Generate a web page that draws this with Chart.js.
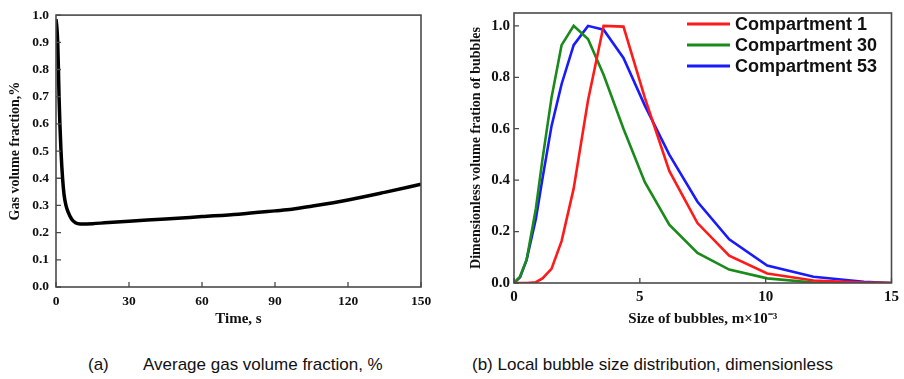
<!DOCTYPE html>
<html lang="en">
<head>
  <meta charset="UTF-8" />
  <title>Gas volume fraction and bubble size distribution</title>
  <script src="https://cdn.jsdelivr.net/npm/chart.js"></script>
  <style>
    body { margin: 0; background: #fff; width: 904px; height: 379px; position: relative; overflow: hidden; }
    .panel { position: absolute; top: 0; height: 330px; }
    #panelA { left: 0; width: 440px; }
    #panelB { left: 450px; width: 454px; }
    .caption {
      position: absolute; top: 355px; font-family: "Liberation Sans", Arial, sans-serif;
      font-size: 17px; color: #111; white-space: pre;
    }
  </style>
</head>
<body>
  <div class="panel" id="panelA"><canvas id="chartA" width="440" height="330"></canvas></div>
  <div class="panel" id="panelB"><canvas id="chartB" width="454" height="330"></canvas></div>
  <div class="caption" id="capA1" style="left:88px">(a)</div>
  <div class="caption" id="capA2" style="left:143px">Average gas volume fraction, %</div>
  <div class="caption" id="capB" style="left:472px">(b) Local bubble size distribution, dimensionless</div>

  <script>
    // (a) average gas volume fraction over time
    const timeS = [0, 0.4, 0.7, 1.0, 1.25, 1.6, 2.05, 2.7, 3.3, 4.1, 5, 6.4, 8, 10, 15, 20, 30, 45, 60, 75, 90, 97, 105, 120, 135, 150];
    const gasFraction = [0.985, 0.95, 0.9, 0.8, 0.7, 0.6, 0.5, 0.4, 0.34, 0.30, 0.275, 0.25, 0.236, 0.232, 0.233, 0.236, 0.242, 0.25, 0.259, 0.268, 0.280, 0.286, 0.297, 0.320, 0.348, 0.378];
    const timeTicks = [0, 30, 60, 90, 120, 150];
    const fractionTicks = [0, 0.1, 0.2, 0.3, 0.4, 0.5, 0.6, 0.7, 0.8, 0.9, 1.0];

    // (b) bubble size classes (m x 10^-3) and normalised volume fraction per compartment
    const bubbleSize = [0, 0.24, 0.5, 0.87, 1.13, 1.49, 1.89, 2.37, 2.94, 3.56, 4.35, 5.2, 6.17, 7.29, 8.55, 10.06, 11.9, 13.9, 15];
    const compartment1 = [0, 0, 0, 0.003, 0.018, 0.055, 0.163, 0.367, 0.71, 1.0, 0.997, 0.72, 0.436, 0.233, 0.106, 0.037, 0.01, 0.002, 0];
    const compartment30 = [0, 0.025, 0.09, 0.29, 0.48, 0.72, 0.925, 1.0, 0.949, 0.81, 0.6, 0.392, 0.227, 0.117, 0.052, 0.018, 0.002, 0, 0];
    const compartment53 = [0, 0.022, 0.09, 0.25, 0.405, 0.61, 0.773, 0.925, 1.0, 0.985, 0.875, 0.69, 0.499, 0.316, 0.17, 0.068, 0.024, 0.005, 0];
    const seriesNames = ["Compartment 1", "Compartment 30", "Compartment 53"];
    const seriesColors = ["#ff1a1a", "#1a8a1a", "#1a1aff"];
    const sizeTicks = [0, 5, 10, 15];
    const distTicks = [0, 0.2, 0.4, 0.6, 0.8, 1.0];

    const serif = "'Liberation Serif', 'Times New Roman', serif";
    const toPoints = (xs, ys) => xs.map((x, i) => ({ x: x, y: ys[i] }));

    // frame around the plot and short inward tick marks
    const frameTicks = {
      id: "frameTicks",
      afterDraw(chart) {
        const { ctx, chartArea: a, scales } = chart;
        ctx.save();
        ctx.strokeStyle = "#4a4a4a";
        ctx.lineWidth = 1.6;
        ctx.strokeRect(a.left, a.top, a.right - a.left, a.bottom - a.top);
        ctx.lineWidth = 1.3;
        ctx.beginPath();
        scales.x.ticks.forEach(t => {
          const px = scales.x.getPixelForValue(t.value);
          ctx.moveTo(px, a.bottom);
          ctx.lineTo(px, a.bottom - 5);
        });
        scales.y.ticks.forEach(t => {
          const py = scales.y.getPixelForValue(t.value);
          ctx.moveTo(a.left, py);
          ctx.lineTo(a.left + 5, py);
        });
        ctx.stroke();
        ctx.restore();
      }
    };

    // legend drawn inside the plot, top right
    const insideLegend = {
      id: "insideLegend",
      afterDraw(chart) {
        const { ctx } = chart;
        ctx.save();
        ctx.font = "bold 18px 'Liberation Sans', Arial, sans-serif";
        ctx.textBaseline = "middle";
        chart.data.datasets.forEach((ds, i) => {
          const y = 24 + i * 21;
          ctx.strokeStyle = ds.borderColor;
          ctx.lineWidth = 3;
          ctx.beginPath();
          ctx.moveTo(237, y);
          ctx.lineTo(280, y);
          ctx.stroke();
          ctx.fillStyle = "#111";
          ctx.fillText(ds.label, 285, y + 1);
        });
        ctx.restore();
      }
    };

    function fixedTicks(list) {
      return function (scale) {
        scale.ticks = list.map(v => ({ value: v }));
      };
    }

    new Chart(document.getElementById("chartA"), {
      type: "line",
      data: {
        datasets: [{
          data: toPoints(timeS, gasFraction),
          borderColor: "#000",
          borderWidth: 3.5,
          pointRadius: 0,
          cubicInterpolationMode: "monotone",
          fill: false
        }]
      },
      options: {
        responsive: false,
        animation: false,
        layout: { padding: { top: 13, right: 19, bottom: 0, left: 0 } },
        plugins: { legend: { display: false }, tooltip: { enabled: false } },
        scales: {
          x: {
            type: "linear", min: 0, max: 150,
            afterBuildTicks: fixedTicks(timeTicks),
            afterFit(s) { s.height = 43; },
            grid: { display: false, drawTicks: false },
            border: { display: false },
            ticks: { font: { family: serif, size: 13.5, weight: "bold" }, color: "#111", padding: 6, maxRotation: 0 },
            title: { display: true, text: "Time, s", font: { family: serif, size: 15, weight: "bold" }, color: "#111", padding: { top: 0, bottom: 2 } }
          },
          y: {
            type: "linear", min: 0, max: 1.0,
            afterBuildTicks: fixedTicks(fractionTicks),
            afterFit(s) { s.width = 56; },
            grid: { display: false, drawTicks: false },
            border: { display: false },
            ticks: { font: { family: serif, size: 13.5, weight: "bold" }, color: "#111", padding: 7, callback: v => v.toFixed(1) },
            title: { display: true, text: "Gas volume fraction,%", font: { family: serif, size: 14, weight: "bold" }, color: "#111", padding: { top: 7, bottom: 0 } }
          }
        }
      },
      plugins: [frameTicks]
    });

    const distSeries = [compartment1, compartment30, compartment53];
    new Chart(document.getElementById("chartB"), {
      type: "line",
      data: {
        datasets: distSeries.map((vals, i) => ({
          label: seriesNames[i],
          data: toPoints(bubbleSize, vals),
          borderColor: seriesColors[i],
          borderWidth: 2.6,
          pointRadius: 0,
          tension: 0,
          fill: false
        }))
      },
      options: {
        responsive: false,
        animation: false,
        layout: { padding: { top: 7, right: 11, bottom: 0, left: 0 } },
        plugins: { legend: { display: false }, tooltip: { enabled: false } },
        scales: {
          x: {
            type: "linear", min: 0, max: 15,
            afterBuildTicks: fixedTicks(sizeTicks),
            afterFit(s) { s.height = 47; },
            grid: { display: false, drawTicks: false },
            border: { display: false },
            ticks: { font: { family: serif, size: 15, weight: "bold" }, color: "#111", padding: 5, maxRotation: 0 },
            title: { display: true, text: "Size of bubbles, m\u00d710\u207b\u00b3", font: { family: serif, size: 15, weight: "bold" }, color: "#111", padding: { top: 0, bottom: 2 } }
          },
          y: {
            type: "linear", min: 0, max: 1.05,
            afterBuildTicks: fixedTicks(distTicks),
            afterFit(s) { s.width = 64; },
            grid: { display: false, drawTicks: false },
            border: { display: false },
            ticks: { font: { family: serif, size: 15, weight: "bold" }, color: "#111", padding: 4, callback: v => v.toFixed(1) },
            title: { display: true, text: "Dimensionless volume fration of bubbles", font: { family: serif, size: 14, weight: "bold" }, color: "#111", padding: { top: 18, bottom: 0 } }
          }
        }
      },
      plugins: [frameTicks, insideLegend]
    });
  </script>
</body>
</html>
